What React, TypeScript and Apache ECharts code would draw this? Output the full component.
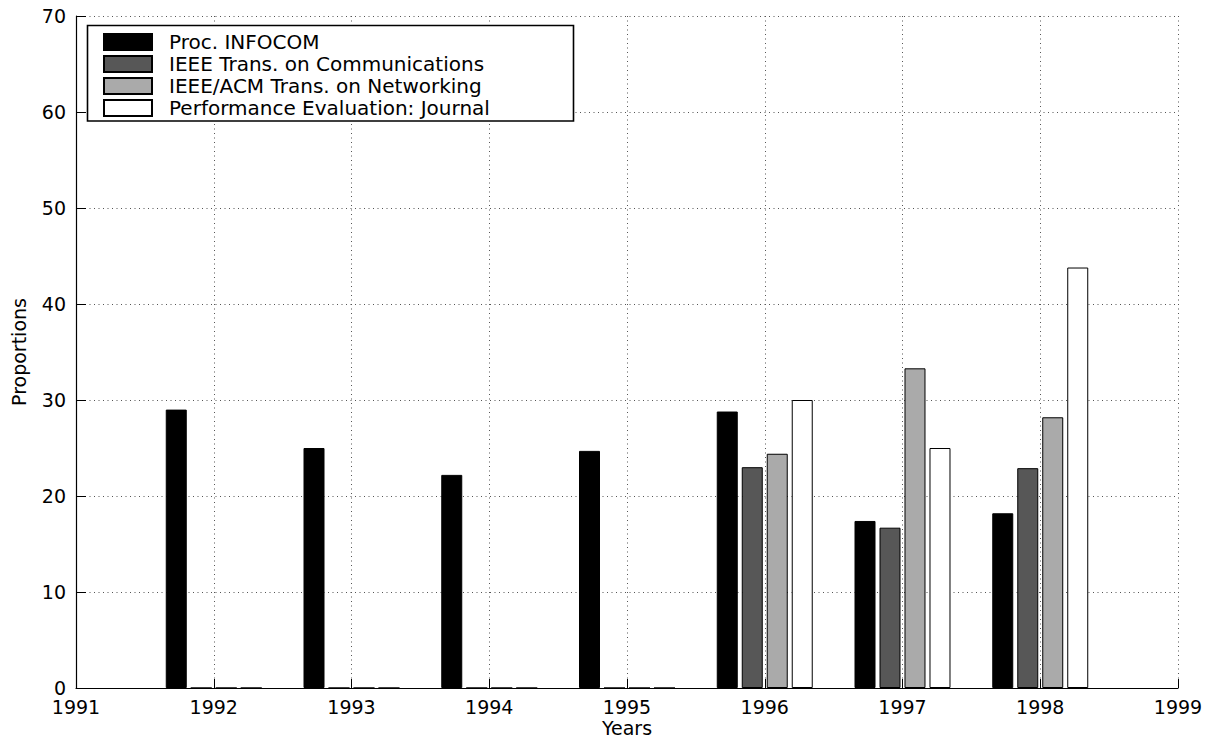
import React, { useEffect, useRef } from "react";
import * as echarts from "echarts";

const years = ["1991", "1992", "1993", "1994", "1995", "1996", "1997", "1998", "1999"];
const seriesNames = [
  "Proc. INFOCOM",
  "IEEE Trans. on Communications",
  "IEEE/ACM Trans. on Networking",
  "Performance Evaluation: Journal",
];
const infocom = ["-", 29.0, 25.0, 22.2, 24.7, 28.8, 17.4, 18.2, "-"];
const transComm = ["-", 0, 0, 0, 0, 23.0, 16.7, 22.9, "-"];
const transNet = ["-", 0, 0, 0, 0, 24.4, 33.3, 28.2, "-"];
const perfEval = ["-", 0, 0, 0, 0, 30.0, 25.0, 43.8, "-"];
const seriesData = [infocom, transComm, transNet, perfEval];
const colors = ["#000000", "#575757", "#aaaaaa", "#ffffff"];
const yTicks = { min: 0, max: 70, interval: 10 };

const FONT = "DejaVu Sans";

export default function App() {
  const ref = useRef<HTMLDivElement>(null);
  useEffect(() => {
    if (!ref.current) return;
    const chart = echarts.init(ref.current, undefined, { renderer: "svg" });
    const gridLine = { show: true, lineStyle: { color: "#555", type: [1, 3.5], width: 1 } };
    chart.setOption({
      animation: false,
      backgroundColor: "#ffffff",
      textStyle: { fontFamily: FONT },
      grid: { left: 76, right: 36, top: 16, bottom: 50, containLabel: false, outerBoundsMode: "none" },
      xAxis: {
        type: "category",
        data: years,
        boundaryGap: false,
        name: "Years",
        nameLocation: "middle",
        nameGap: 32,
        nameMoveOverlap: false,
        nameTextStyle: { fontSize: 19, lineHeight: 16, color: "#000", fontFamily: FONT },
        axisLine: { show: true, lineStyle: { color: "#000", width: 1.2 } },
        axisTick: { show: true, inside: true, length: 9, interval: 0, lineStyle: { color: "#000" } },
        axisLabel: { fontSize: 19, lineHeight: 14, color: "#000", margin: 12, interval: 0, fontFamily: FONT },
        splitLine: { ...gridLine, interval: 0 },
      },
      yAxis: {
        type: "value",
        min: yTicks.min,
        max: yTicks.max,
        interval: yTicks.interval,
        name: "Proportions",
        nameLocation: "middle",
        nameGap: 48,
        nameMoveOverlap: false,
        nameTextStyle: { fontSize: 19, color: "#000", fontFamily: FONT },
        axisLine: { show: true, lineStyle: { color: "#000", width: 1.2 } },
        axisTick: { show: true, inside: true, length: 10, lineStyle: { color: "#000" } },
        axisLabel: { fontSize: 19, lineHeight: 14, color: "#000", margin: 10, fontFamily: FONT },
        splitLine: gridLine,
      },
      legend: {
        show: true,
        orient: "vertical",
        left: 103,
        top: 32,
        itemWidth: 48,
        itemHeight: 16,
        itemGap: 2,
        padding: 0,
        z: 10,
        icon: "rect",
        selectedMode: false,
        textStyle: { fontSize: 20, color: "#000", padding: [0, 0, 0, 12], fontFamily: FONT },
        data: seriesNames,
      },
      graphic: [
        {
          type: "rect",
          z: 3,
          shape: { x: 87.5, y: 25.5, width: 486, height: 95.5 },
          style: { fill: "#fff", stroke: "#000", lineWidth: 1.6 },
        },
      ],
      series: seriesNames.map((name, i) => ({
        name,
        type: "bar",
        data: seriesData[i],
        barWidth: 21,
        barGap: "19%",
        itemStyle: { color: colors[i], borderColor: "#000", borderWidth: 1 },
      })),
    });
    return () => chart.dispose();
  }, []);
  return (
    <div
      ref={ref}
      style={{ position: "fixed", left: 0, top: 0, width: 1214, height: 738 }}
    />
  );
}
